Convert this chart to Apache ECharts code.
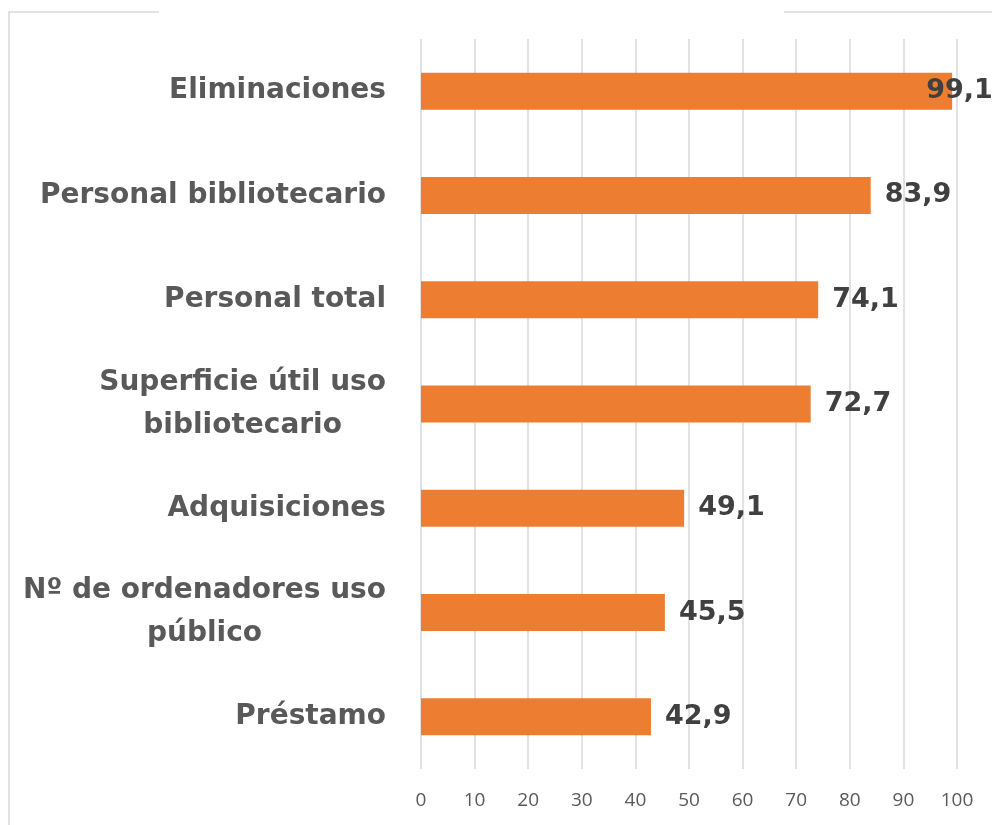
<!DOCTYPE html>
<html>
<head>
<meta charset="utf-8">
<script src="https://cdn.jsdelivr.net/npm/echarts@6/dist/echarts.min.js"></script>
<style>
  html, body { margin: 0; padding: 0; background: #fff; }
  #chart { width: 992px; height: 825px; }
</style>
</head>
<body>
<div id="chart"></div>
<script>
const categories = [
  'Eliminaciones',
  'Personal bibliotecario',
  'Personal total',
  'Superficie útil uso\nbibliotecario',
  'Adquisiciones',
  'Nº de ordenadores uso\npúblico',
  'Préstamo'
]
const values = [99.1, 83.9, 74.1, 72.7, 49.1, 45.5, 42.9]

const chart = echarts.init(document.getElementById('chart'))

// the top value label is pulled back inside the chart, as in the original
const barData = values.map((v, i) => (i === 0 ? { value: v, label: { offset: [-40, 0] } } : v))

const option = {
  animation: false,
  grid: { left: 421, right: 35, top: 39, bottom: 56, containLabel: false },
  graphic: [
    { type: 'polyline', shape: { points: [[159, 12], [9, 12], [9, 825]] }, style: { stroke: '#d9d9d9', lineWidth: 1.5, fill: null } },
    { type: 'line', shape: { x1: 784, y1: 12, x2: 992, y2: 12 }, style: { stroke: '#d9d9d9', lineWidth: 1.5 } }
  ],
  xAxis: {
    type: 'value',
    min: 0,
    max: 100,
    interval: 10,
    axisLine: { show: false },
    axisTick: { show: false },
    splitLine: { lineStyle: { color: '#d9d9d9', width: 1.5 } },
    axisLabel: {
      color: '#595959',
      fontFamily: 'Open Sans',
      fontSize: 19,
      margin: 22
    }
  },
  yAxis: {
    type: 'category',
    inverse: true,
    data: categories,
    axisLine: { show: false },
    axisTick: { show: false },
    axisLabel: {
      margin: 35,
      align: 'right',
      formatter: (v) => v.split('\n').map(l => '{c|' + l + '}').join('\n'),
      rich: {
        c: {
          align: 'center',
          color: '#595959',
          fontFamily: 'DejaVu Sans',
          fontWeight: 'bold',
          fontSize: 28,
          lineHeight: 43
        }
      }
    }
  },
  series: [
    {
      type: 'bar',
      data: barData,
      barWidth: 37,
      itemStyle: { color: '#ed7d31' },
      label: {
        show: true,
        position: 'right',
        distance: 14,
        color: '#404040',
        fontFamily: 'DejaVu Sans',
        fontWeight: 'bold',
        fontSize: 27,
        formatter: (p) => p.value.toFixed(1).replace('.', ',')
      }
    }
  ]
}

chart.setOption(option)
</script>
</body>
</html>
